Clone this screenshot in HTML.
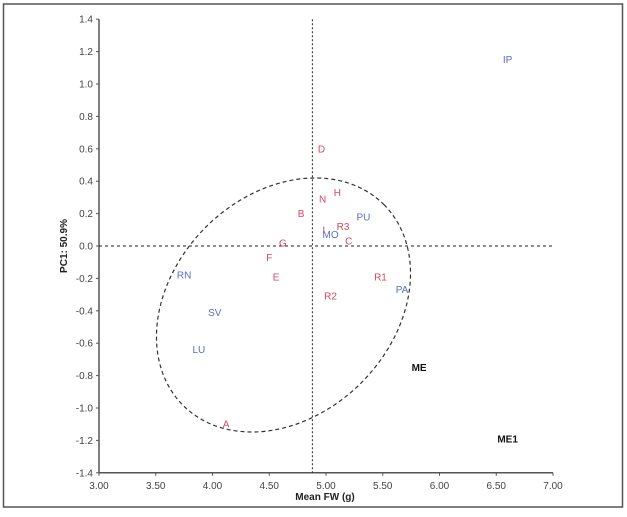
<!DOCTYPE html>
<html><head><meta charset="utf-8"><style>
body{margin:0;background:#fff;}
svg text{font-family:"Liberation Sans Narrow","Liberation Sans",sans-serif;}
</style></head><body>
<svg id="c" width="627" height="512" xmlns="http://www.w3.org/2000/svg">
<rect x="3.5" y="4" width="619" height="503" fill="#fff" stroke="#555" stroke-width="1.5"/>
<g id="g"></g>
</svg>
<script>
const labels=["IP","D","H","N","B","PU","R3","I","MO","C","G","F","E","RN","R1","PA","R2","SV","LU","A","ME","ME1"];
const xs=[6.60,4.96,5.10,4.97,4.78,5.33,5.15,4.98,5.04,5.20,4.62,4.50,4.56,3.75,5.48,5.67,5.04,4.02,3.88,4.12,5.82,6.60];
const ys=[1.15,0.60,0.33,0.29,0.20,0.18,0.12,0.10,0.07,0.03,0.02,-0.07,-0.19,-0.18,-0.19,-0.27,-0.31,-0.41,-0.64,-1.10,-0.75,-1.19];
const groups=["b","r","r","r","r","b","r","r","b","r","r","r","r","b","r","b","r","b","b","r","k","k"];
const xTicks=[3.0,3.5,4.0,4.5,5.0,5.5,6.0,6.5,7.0];
const yTicks=[1.4,1.2,1.0,0.8,0.6,0.4,0.2,0.0,-0.2,-0.4,-0.6,-0.8,-1.0,-1.2,-1.4];
const meanX=[4.88];
const X=v=>99+(v-3)*113.5, Y=v=>246-v*162;
const g=document.getElementById('g'),NS="http://www.w3.org/2000/svg";
function mk(t,a,txt){const e=document.createElementNS(NS,t);for(const k in a)e.setAttribute(k,a[k]);if(txt!==undefined)e.textContent=txt;g.appendChild(e);return e;}
let e;
e=mk('line',{x1:99,y1:Y(1.4),x2:99,y2:Y(-1.4),stroke:'#555','stroke-width':1.5});


e=mk('line',{x1:99,y1:Y(-1.4),x2:X(7),y2:Y(-1.4),stroke:'#555','stroke-width':1.5});


yTicks.forEach(v=>{mk('line',{x1:96,y1:Y(v),x2:99,y2:Y(v),stroke:'#555'});
e=mk('text',{x:93,y:Y(v)+3.5,'text-anchor':'end','font-size':10,fill:'#444'},v.toFixed(1));

});
xTicks.forEach(v=>{mk('line',{x1:X(v),y1:Y(-1.4),x2:X(v),y2:Y(-1.4)+3,stroke:'#555'});
e=mk('text',{x:X(v),y:489,'text-anchor':'middle','font-size':10,fill:'#444'},v.toFixed(2));

});
e=mk('line',{x1:99,y1:Y(0),x2:X(7),y2:Y(0),stroke:'#222','stroke-dasharray':'3,3'});


e=mk('line',{x1:X(meanX[0]),y1:Y(1.4),x2:X(meanX[0]),y2:Y(-1.4),stroke:'#222','stroke-dasharray':'2,2'});


e=mk('ellipse',{cx:283.5,cy:305,rx:142,ry:110,transform:'rotate(-45 283.5 305)',fill:'none',stroke:'#333','stroke-width':1.2,'stroke-dasharray':'4,3'});


const col={r:'#d8475f',b:'#5b6cc0',k:'#111'};
labels.forEach((l,i)=>{e=mk('text',{x:X(xs[i]),y:Y(ys[i])+3.5,'text-anchor':'middle','font-size':10,fill:col[groups[i]],'font-weight':groups[i]=='k'?'bold':'normal'},l);

});
e=mk('text',{x:325,y:500,'text-anchor':'middle','font-size':10,'font-weight':'bold',fill:'#222'},'Mean FW (g)');


e=mk('text',{x:0,y:0,transform:'translate(67,246) rotate(-90)','text-anchor':'middle','font-size':10,'font-weight':'bold',fill:'#222'},'PC1: 50.9%');


</script>
</body></html>
